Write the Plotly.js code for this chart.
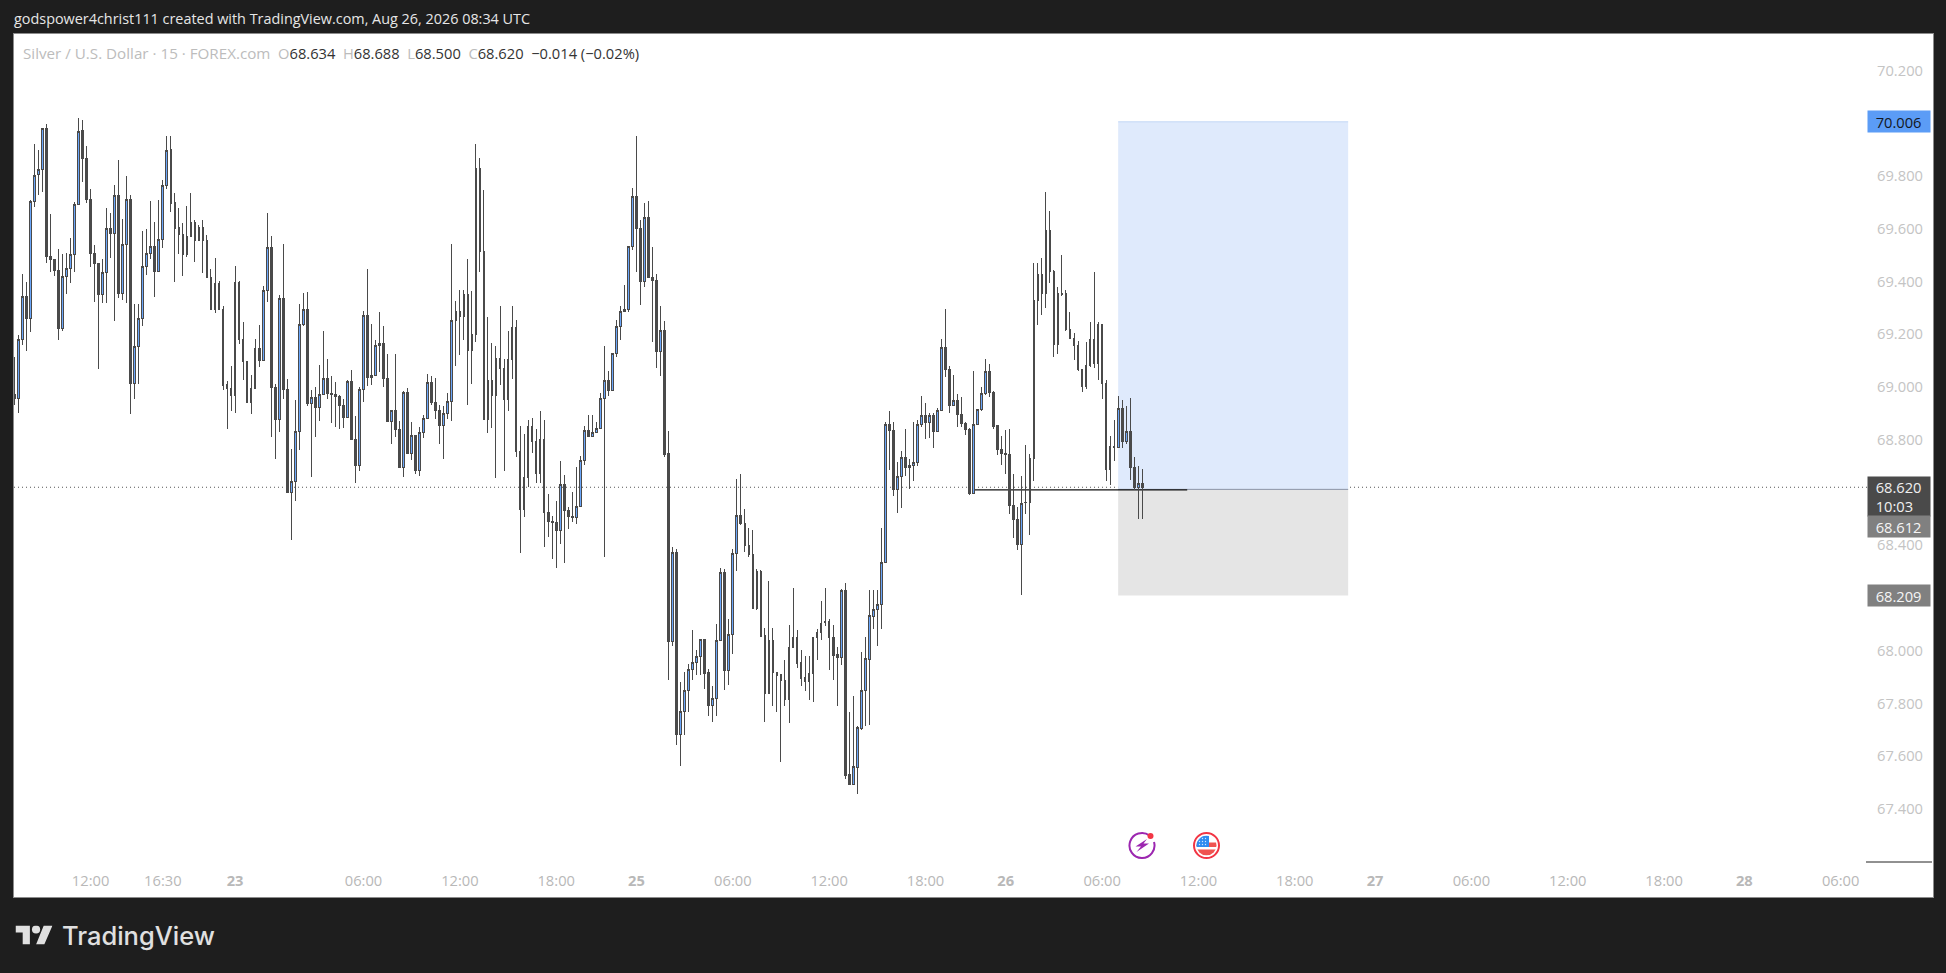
<!DOCTYPE html>
<html>
<head>
<meta charset="utf-8">
<script src="https://cdn.plot.ly/plotly-3.0.1.min.js"></script>
<style>html,body{margin:0;padding:0;background:#1e1e1e;overflow:hidden}
#chart .boxlayer path{shape-rendering:crispEdges !important}</style>
</head>
<body>
<div id="chart" style="width:1946px;height:973px"></div>
<script>
const opens = [
68.970,68.957,69.180,69.342,69.260,69.703,69.805,69.824,69.980,69.495,
69.483,69.442,69.221,69.419,69.449,69.502,69.692,69.972,69.866,69.711,
69.506,69.468,69.350,69.433,69.601,69.581,69.726,69.355,69.540,69.711,
69.013,69.153,69.259,69.456,69.505,69.533,69.439,69.559,69.764,69.900,
69.699,69.605,69.577,69.501,69.571,69.624,69.554,69.605,69.555,69.415,
69.295,69.393,69.294,69.010,68.994,68.968,69.396,69.180,69.097,68.941,
68.995,69.146,69.100,69.365,69.529,68.999,68.876,69.336,68.991,68.600,
68.641,68.831,69.237,69.294,68.937,68.960,68.923,68.971,69.033,68.975,
68.971,68.966,68.930,68.885,69.021,68.802,68.702,68.991,69.271,69.035,
69.044,69.156,69.165,69.033,68.869,68.913,68.840,68.694,68.980,68.747,
68.817,68.683,68.827,68.881,69.018,68.942,68.911,68.853,68.900,68.946,
69.252,69.288,69.266,69.351,69.138,69.199,69.828,69.514,68.876,69.025,
68.967,69.108,69.071,68.952,69.105,69.226,68.756,68.535,68.658,68.851,
68.794,68.672,68.802,68.525,68.491,68.487,68.456,68.631,68.533,68.510,
68.504,68.548,68.722,68.836,68.812,68.827,68.842,68.957,69.025,68.987,
69.127,69.230,69.287,69.294,69.533,69.722,69.601,69.399,69.643,69.415,
69.404,69.134,69.215,68.749,68.036,68.374,67.683,67.768,67.851,67.927,
67.957,67.980,68.042,67.916,67.793,67.817,68.037,68.298,67.926,68.063,
68.368,68.514,68.484,68.400,68.366,68.159,68.302,68.056,67.839,68.037,
67.919,67.908,67.889,67.816,68.014,68.052,67.954,67.897,67.884,67.912,
68.052,68.071,68.109,68.109,68.052,67.984,67.975,68.230,67.529,67.494,
67.558,67.705,67.851,67.968,68.130,68.158,68.176,68.335,68.859,68.836,
68.613,68.662,68.734,68.696,68.703,68.715,68.859,68.893,68.866,68.893,
68.831,68.912,69.150,69.067,68.929,68.950,68.897,68.863,68.840,68.597,
68.859,68.916,68.976,69.060,68.980,68.855,68.764,68.749,68.746,68.552,
68.499,68.403,68.563,68.563,68.730,69.328,69.427,69.354,69.594,69.438,
69.161,69.355,69.355,69.219,69.185,69.158,69.067,69.001,69.082,69.181,
69.089,69.238,69.014,68.687,68.775,68.772,68.919,68.793,68.832,68.696,
68.620,68.634];
const highs = [
69.114,69.199,69.430,69.400,69.708,69.923,69.900,69.983,69.996,69.655,
69.487,69.525,69.504,69.509,69.564,69.701,70.021,70.014,69.915,69.750,
69.537,69.471,69.487,69.679,69.660,69.765,69.862,69.636,69.799,69.727,
69.314,69.314,69.592,69.598,69.704,69.625,69.708,69.784,69.951,69.951,
69.737,69.679,69.622,69.685,69.737,69.632,69.616,69.632,69.576,69.449,
69.489,69.401,69.307,69.023,69.079,69.458,69.401,69.246,69.097,69.045,
69.182,69.235,69.385,69.659,69.572,69.011,69.348,69.544,69.029,68.764,
68.951,69.314,69.356,69.360,68.989,68.999,69.083,69.212,69.105,69.042,
69.019,68.970,68.954,69.026,69.064,68.890,69.001,69.288,69.447,69.241,
69.178,69.284,69.231,69.127,68.913,69.125,68.871,68.985,68.995,68.867,
68.817,68.847,68.894,69.048,69.042,69.033,68.932,68.928,68.976,69.544,
69.326,69.370,69.370,69.487,69.364,69.920,69.870,69.746,69.264,69.167,
69.154,69.307,69.108,69.212,69.309,69.256,68.852,68.822,68.875,68.883,
68.840,68.908,68.875,68.595,68.511,68.569,68.720,68.667,68.547,68.602,
68.696,68.739,68.852,68.894,68.894,68.867,68.976,69.155,69.061,69.127,
69.254,69.307,69.386,69.533,69.756,69.951,69.632,69.698,69.704,69.530,
69.430,69.307,69.250,68.834,68.394,68.387,67.882,67.921,67.951,68.080,
68.004,68.046,68.042,67.932,67.865,68.103,68.313,68.311,68.121,68.387,
68.652,68.671,68.538,68.465,68.459,68.311,68.305,68.086,68.265,68.086,
67.919,67.908,67.966,68.099,68.239,68.080,68.004,67.979,67.979,68.052,
68.084,68.190,68.239,68.121,68.099,68.013,68.234,68.258,67.769,67.830,
67.716,67.996,68.052,68.231,68.231,68.231,68.465,68.869,68.908,68.868,
68.714,68.758,68.841,68.727,68.868,68.875,68.966,68.938,68.900,68.900,
68.919,69.181,69.296,69.080,69.046,68.974,68.961,68.866,68.844,69.061,
68.916,68.999,69.106,69.087,68.985,68.856,68.816,68.837,68.841,68.671,
68.547,68.661,68.780,68.746,69.471,69.471,69.491,69.739,69.667,69.443,
69.380,69.500,69.370,69.284,69.205,69.173,69.070,69.172,69.245,69.436,
69.245,69.239,69.027,68.815,68.875,68.966,68.951,68.928,68.958,68.735,
68.701,68.688];
const lows = [
68.933,68.903,69.160,69.138,69.210,69.683,69.727,69.740,69.471,69.437,
69.422,69.179,69.213,69.353,69.395,69.437,69.691,69.778,69.698,69.456,
69.323,69.069,69.319,69.319,69.490,69.251,69.338,69.331,69.317,68.899,
68.956,69.013,69.232,69.424,69.486,69.342,69.437,69.528,69.751,69.664,
69.399,69.506,69.422,69.494,69.569,69.475,69.554,69.433,69.414,69.292,
69.281,69.292,68.989,68.842,68.910,68.903,69.165,69.026,68.941,68.899,
68.995,69.077,69.100,69.323,68.812,68.728,68.831,68.956,68.600,68.420,
68.569,68.761,69.231,68.928,68.660,68.812,68.872,68.971,68.956,68.865,
68.850,68.840,68.843,68.885,68.800,68.638,68.683,68.944,69.004,69.007,
69.044,69.058,69.001,68.869,68.784,68.812,68.694,68.660,68.747,68.723,
68.672,68.664,68.808,68.881,68.933,68.879,68.784,68.727,68.879,68.871,
69.079,69.121,69.179,68.933,69.011,69.170,69.436,68.876,68.827,68.845,
68.655,69.007,68.683,68.909,69.030,68.736,68.372,68.509,68.622,68.751,
68.638,68.635,68.395,68.433,68.347,68.315,68.405,68.332,68.462,68.490,
68.481,68.547,68.704,68.812,68.812,68.824,68.842,68.357,68.966,68.987,
69.115,69.178,69.285,69.285,69.519,69.436,69.311,69.380,69.412,69.172,
69.073,69.043,68.736,67.888,68.017,67.642,67.562,67.680,67.767,67.890,
67.907,67.909,67.853,67.752,67.729,67.752,68.036,67.850,67.871,67.989,
68.301,68.475,68.373,68.354,68.159,68.156,68.055,67.729,67.835,67.792,
67.767,67.577,67.789,67.725,68.014,67.933,67.865,67.849,67.812,67.805,
67.966,68.042,68.092,67.928,67.890,67.789,67.945,67.515,67.489,67.489,
67.456,67.701,67.714,67.720,68.084,68.019,68.084,68.335,68.686,68.585,
68.524,68.543,68.663,68.615,68.642,68.702,68.850,68.804,68.808,68.770,
68.831,68.912,69.039,68.903,68.929,68.850,68.847,68.820,68.589,68.597,
68.859,68.911,68.970,68.964,68.842,68.741,68.706,68.671,68.518,68.426,
68.383,68.212,68.519,68.440,68.645,69.236,69.273,69.301,69.394,69.115,
69.125,69.346,69.212,69.183,69.102,69.062,68.983,68.994,69.077,69.073,
69.027,68.955,68.642,68.629,68.720,68.772,68.767,68.783,68.648,68.610,
68.498,68.500];
const closes = [
68.957,69.180,69.342,69.260,69.702,69.804,69.824,69.980,69.494,69.482,
69.441,69.221,69.418,69.448,69.502,69.692,69.971,69.865,69.711,69.506,
69.468,69.350,69.433,69.600,69.581,69.725,69.353,69.539,69.711,69.013,
69.153,69.259,69.456,69.505,69.533,69.439,69.559,69.764,69.899,69.698,
69.603,69.577,69.501,69.571,69.624,69.554,69.605,69.554,69.414,69.295,
69.393,69.294,69.007,68.994,68.968,69.396,69.180,69.096,68.941,68.995,
69.146,69.100,69.365,69.529,68.997,68.876,69.336,68.990,68.600,68.641,
68.831,69.237,69.294,68.936,68.960,68.923,68.971,69.031,68.975,68.970,
68.963,68.930,68.884,69.021,68.800,68.702,68.991,69.271,69.035,69.044,
69.156,69.165,69.033,68.869,68.910,68.838,68.694,68.980,68.747,68.817,
68.683,68.827,68.881,69.018,68.941,68.910,68.853,68.900,68.946,69.252,
69.287,69.266,69.351,69.138,69.199,69.828,69.513,68.876,69.025,68.967,
69.108,69.071,68.952,69.105,69.226,68.755,68.535,68.658,68.851,68.793,
68.672,68.802,68.524,68.490,68.486,68.456,68.631,68.531,68.509,68.504,
68.548,68.722,68.836,68.812,68.827,68.842,68.957,69.025,68.987,69.127,
69.230,69.287,69.294,69.533,69.722,69.600,69.399,69.643,69.414,69.403,
69.134,69.215,68.746,68.036,68.374,67.683,67.768,67.851,67.927,67.957,
67.980,68.042,67.914,67.793,67.817,68.037,68.298,67.926,68.063,68.368,
68.514,68.483,68.399,68.365,68.159,68.302,68.055,67.839,68.037,67.918,
67.907,67.889,67.816,68.014,68.052,67.952,67.895,67.884,67.912,68.052,
68.071,68.105,68.106,68.051,67.983,67.975,68.230,67.528,67.493,67.560,
67.707,67.851,67.969,68.132,68.158,68.176,68.335,68.859,68.836,68.613,
68.662,68.734,68.696,68.703,68.715,68.859,68.893,68.866,68.893,68.831,
68.912,69.150,69.066,68.929,68.950,68.895,68.861,68.839,68.597,68.859,
68.916,68.976,69.060,68.980,68.852,68.763,68.748,68.746,68.551,68.498,
68.403,68.560,68.561,68.730,69.328,69.427,69.354,69.594,69.437,69.161,
69.355,69.352,69.217,69.183,69.157,69.065,69.001,69.082,69.181,69.089,
69.238,69.013,68.687,68.775,68.770,68.919,68.793,68.832,68.695,68.620,
68.635,68.620];
const barIndex = opens.map((_, i) => i);

const timeTickIndex = [19,37,55,87,111,135,155,179,203,227,247,271,295,319,339,363,387,411,431,455];
const timeTickLabels = ["12:00","16:30","<b>23</b>","06:00","12:00","18:00","<b>25</b>","06:00","12:00","18:00","<b>26</b>","06:00","12:00","18:00","<b>27</b>","06:00","12:00","18:00","<b>28</b>","06:00"];
const priceTicks = [70.2,69.8,69.6,69.4,69.2,69.0,68.8,68.4,68.0,67.8,67.6,67.4];

const lastPrice = 68.620, targetPrice = 70.006, entryPrice = 68.612, stopPrice = 68.209;
const toolStartBar = 275, toolEndBar = 332.3, lineStartBar = 239.3, lineEndBar = 292.2, linePrice = 68.61;

const PANE = {l:14, r:1933, t:34, b:897};
const px = x => (x - PANE.l) / (PANE.r - PANE.l);
const py = y => (PANE.b - y) / (PANE.b - PANE.t);

const FONT = '"Open Sans", "Noto Sans", sans-serif';
const logoSvg = '<svg xmlns="http://www.w3.org/2000/svg" viewBox="0 0 36 19"><path fill="#e0e0e0" d="M14 19H7V7H0V0h14zM28 19h-8l7.5-19H36z"/><circle fill="#e0e0e0" cx="20" cy="4" r="4"/></svg>';
const boltSvg = '<svg xmlns="http://www.w3.org/2000/svg" viewBox="0 0 28 28"><path d="M21.5 4.5A12.5 12.5 0 1 0 26 11" fill="#fff" stroke="#9c27b0" stroke-width="2"/><path d="M19 8L7.5 15.5h5.5l-4.5 5.5L21 12.5h-5.5z" fill="#9c27b0"/><circle cx="22.5" cy="5" r="3" fill="#f23645"/></svg>';
const flagSvg = '<svg xmlns="http://www.w3.org/2000/svg" viewBox="0 0 28 28"><circle cx="14" cy="14" r="12.5" fill="#fff" stroke="#f23645" stroke-width="2"/><clipPath id="c"><circle cx="14" cy="14" r="10"/></clipPath><g clip-path="url(#c)"><rect x="3" y="4" width="22" height="20" fill="#fff"/><rect x="3" y="11" width="22" height="4.5" fill="#ef5350"/><rect x="3" y="18" width="22" height="6" fill="#ef5350"/><rect x="3" y="4" width="13.5" height="11.5" fill="#2f8cf0"/><g fill="#cfe4ff"><circle cx="7" cy="7" r=".7"/><circle cx="10" cy="7" r=".7"/><circle cx="13" cy="7" r=".7"/><circle cx="7" cy="10" r=".7"/><circle cx="10" cy="10" r=".7"/><circle cx="13" cy="10" r=".7"/><circle cx="7" cy="13" r=".7"/><circle cx="10" cy="13" r=".7"/><circle cx="13" cy="13" r=".7"/></g></g></svg>';
const uri = s => 'data:image/svg+xml;charset=utf-8,' + encodeURIComponent(s);

const trace = {
  type: 'candlestick', x: barIndex, open: opens, high: highs, low: lows, close: closes,
  increasing: {line: {color: '#4a4a4a', width: 1}, fillcolor: '#6aa6fa'},
  decreasing: {line: {color: '#4a4a4a', width: 1}, fillcolor: '#4a4a4a'},
  whiskerwidth: 0, hoverinfo: 'skip', showlegend: false
};

const TAG_PAD = '&nbsp;&nbsp;';
function tag(text, price, shift, h, bg, color) {
  return {xref:'paper', yref:'y', x:px(1867), y:price, xanchor:'left', yanchor:'middle', yshift:shift,
    text:text, showarrow:false, width:62, height:h, bgcolor:bg, borderpad:0, align:'left',
    font:{family:FONT, size:14.7, color:color}};
}

const layout = {
  width: 1946, height: 973, autosize: false,
  paper_bgcolor: '#1e1e1e', plot_bgcolor: '#ffffff',
  margin: {l:PANE.l, r:1946-PANE.r, t:PANE.t, b:973-PANE.b, pad:0},
  showlegend: false, boxgap: 0.4,
  xaxis: {type:'linear', range:[-0.075, 478], showgrid:false, zeroline:false, rangeslider:{visible:false},
    tickmode:'array', tickvals:timeTickIndex, ticktext:timeTickLabels, ticks:'', ticklabelposition:'inside',
    ticklabelstandoff:8, tickfont:{family:FONT, size:14.7, color:'#b8b8b8'},
    showline:true, mirror:true, linecolor:'#8c8c8c', linewidth:1},
  yaxis: {type:'linear', side:'right', range:[67.066, 70.339], showgrid:false, zeroline:false,
    tickmode:'array', tickvals:priceTicks, ticktext:priceTicks.map(v => v.toFixed(3)), ticks:'', ticklabelposition:'inside',
    ticklabelstandoff:10, tickfont:{family:FONT, size:14.7, color:'#c4c4c4'},
    showline:true, mirror:true, linecolor:'#8c8c8c', linewidth:1},
  shapes: [
    {type:'rect', layer:'below', xref:'x', yref:'y', x0:toolStartBar, x1:toolEndBar, y0:entryPrice, y1:targetPrice, fillcolor:'#dfeafc', line:{width:0}},
    {type:'rect', layer:'below', xref:'x', yref:'y', x0:toolStartBar, x1:toolEndBar, y0:stopPrice, y1:entryPrice, fillcolor:'#e5e5e5', line:{width:0}},
    {type:'line', layer:'below', xref:'x', yref:'y', x0:toolStartBar, x1:toolEndBar, y0:targetPrice, y1:targetPrice, line:{width:1, color:'#c4d8f5'}},
    {type:'line', layer:'below', xref:'x', yref:'y', x0:toolStartBar, x1:toolEndBar, y0:entryPrice, y1:entryPrice, line:{width:1, color:'#8a94a6'}},
    {type:'line', layer:'below', xref:'x', yref:'y', x0:lineStartBar, x1:lineEndBar, y0:linePrice, y1:linePrice, line:{width:1.2, color:'#111111'}},
    {type:'line', layer:'below', xref:'paper', yref:'y', x0:0, x1:px(1867), y0:lastPrice, y1:lastPrice, line:{width:1, color:'#555555', dash:'1px,3px'}},
    {type:'line', layer:'above', xref:'paper', yref:'paper', x0:px(1866), x1:px(1932), y0:py(862), y1:py(862), line:{width:1, color:'#222222'}}
  ],
  images: [
    {source:uri(logoSvg), xref:'paper', yref:'paper', x:px(15.5), y:py(925.5), sizex:37, sizey:19, sizing:'stretch', xanchor:'left', yanchor:'top', layer:'above'}
  ],
  annotations: [
    tag(TAG_PAD+targetPrice.toFixed(3), targetPrice, 0, 21, '#5b9cf6', '#131722'),
    tag(TAG_PAD+lastPrice.toFixed(3)+'<br>'+TAG_PAD+'10:03', lastPrice, -9, 39, '#4a4a4a', '#f0f0f0'),
    tag(TAG_PAD+entryPrice.toFixed(3), entryPrice, -37, 21, '#808080', '#f5f5f5'),
    tag(TAG_PAD+stopPrice.toFixed(3), stopPrice, 0, 21, '#808080', '#f5f5f5'),
    {xref:'paper', yref:'paper', x:px(12.5), y:py(18.5), xanchor:'left', yanchor:'middle', showarrow:false, borderpad:0,
      text:'godspower4christ111 created with TradingView.com, Aug 26, 2026 08:34 UTC', font:{family:FONT, size:14.4, color:'#e6e6e6'}},
    {xref:'paper', yref:'paper', x:px(22), y:py(53), xanchor:'left', yanchor:'middle', showarrow:false, borderpad:0,
      text:'<span style="color:#bcbcbc;font-size:15.2px">Silver / U.S. Dollar · 15 · FOREX.com</span>&nbsp;&nbsp;<span style="color:#bcbcbc">O</span>68.634&nbsp;&nbsp;<span style="color:#bcbcbc">H</span>68.688&nbsp;&nbsp;<span style="color:#bcbcbc">L</span>68.500&nbsp;&nbsp;<span style="color:#bcbcbc">C</span>68.620&nbsp;&nbsp;−0.014 (−0.02%)',
      font:{family:FONT, size:14.7, color:'#333333'}},
    {xref:'paper', yref:'paper', x:px(61), y:py(935.5), xanchor:'left', yanchor:'middle', showarrow:false, borderpad:0,
      text:'TradingView', font:{family:'Inter, "Noto Sans", sans-serif', size:25.5, color:'#e0e0e0', weight:500}}
  ]
};
layout.images.push(
  {source:uri(boltSvg), xref:'paper', yref:'paper', x:px(1128), y:py(831), sizex:28, sizey:28, sizing:'stretch', xanchor:'left', yanchor:'top', layer:'above'},
  {source:uri(flagSvg), xref:'paper', yref:'paper', x:px(1192.5), y:py(831.5), sizex:28, sizey:28, sizing:'stretch', xanchor:'left', yanchor:'top', layer:'above'}
);
layout.images.forEach(im => { im.sizex = im.sizex / (PANE.r - PANE.l); im.sizey = im.sizey / (PANE.b - PANE.t); });

Plotly.newPlot('chart', [trace], layout, {displayModeBar:false, staticPlot:true});
</script>
</body>
</html>
